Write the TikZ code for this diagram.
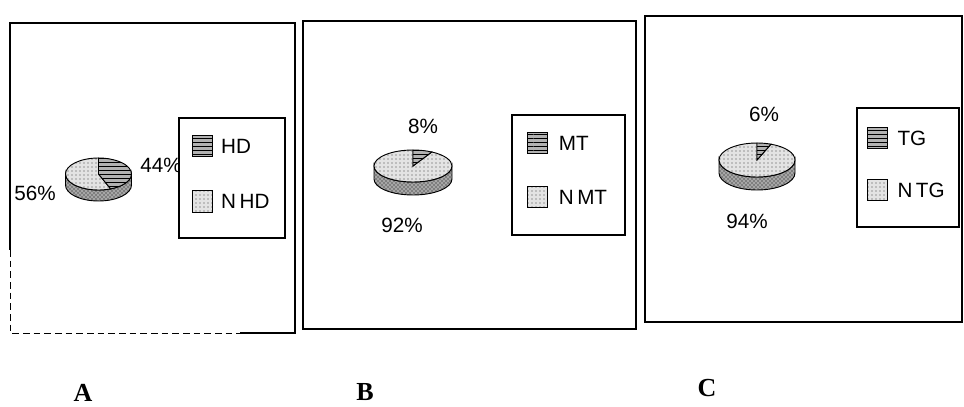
\documentclass[tikz,border=0pt]{standalone}
\usepackage{fontspec}
\setmainfont{Liberation Sans}
\newfontfamily\myserif{Liberation Serif}
\usetikzlibrary{patterns, positioning}
\newlength{\myrulewidth}
\setlength{\myrulewidth}{0.9pt}
\newlength{\mySwatchWidth}
\setlength{\mySwatchWidth}{15pt}

\begin{document}
\begin{tikzpicture}[x=0.75pt, y=0.75pt,
                    my rule/.style={line width=\myrulewidth},
                    my rx/.initial=39, my ry/.initial=16, my depth/.initial=13,
                    my share/.initial=8,
                    my text/.style={font=\fontsize{15.5}{18}\selectfont},
                    my letter/.style={font=\myserif\bfseries\fontsize{19.5}{22}\selectfont},
                    my light/.style={preaction={fill=gray!22},
                      pattern=dots, pattern color=black!75},
                    my dark/.style={preaction={fill=gray!60},
                      pattern=horizontal lines, pattern color=black},
                    my side/.style={preaction={fill=gray!70},
                      pattern=crosshatch dots, pattern color=black},
                    my outline/.style={draw, line width=0.7pt},
                    my swatch/.style={my outline, inner sep=0,
                      minimum width=\mySwatchWidth, minimum height=16pt},
                    my legend/.style={my rule, draw, fill=white, inner sep=0},
                    my pie/.pic={
                      \pgfmathsetmacro{\myRx}{\pgfkeysvalueof{/tikz/my rx}}
                      \pgfmathsetmacro{\myRy}{\pgfkeysvalueof{/tikz/my ry}}
                      \pgfmathsetmacro{\myDepth}{\pgfkeysvalueof{/tikz/my depth}}
                      \pgfmathsetmacro{\myEnd}{90-3.6*\pgfkeysvalueof{/tikz/my share}}
                      \pgfmathsetmacro{\myEndB}{\myEnd+360}
                      \path[my side, my outline]
                        (-\myRx,0) arc[start angle=180, end angle=360,
                                       x radius=\myRx, y radius=\myRy]
                        -- ++(0,-\myDepth)
                        arc[start angle=0, end angle=-180,
                            x radius=\myRx, y radius=\myRy] -- cycle;
                      \path[my light, my outline]
                        (0,0) -- (90:{\myRx} and {\myRy})
                        arc[start angle=90, end angle=\myEndB,
                            x radius=\myRx, y radius=\myRy] -- cycle;
                      \path[my dark, my outline]
                        (0,0) -- (\myEnd:{\myRx} and {\myRy})
                        arc[start angle=\myEnd, end angle=90,
                            x radius=\myRx, y radius=\myRy] -- cycle;
                    }]

\useasboundingbox[fill=white] (0,0) rectangle (964,-407);

% Panel A
\draw[my rule] (240,-333) -- (295,-333) -- (295,-23) -| (10,-250);
\draw[line width=0.5pt, dash pattern=on 5pt off 3pt] (10,-250) |- (240,-333);
\pic[my share=44, my rx=33, my ry=16, my depth=11] (pieA) at (98.5,-174) {my pie};
\node[my text] (pctA1) at (35,-193) {56\%};
\node[my text] (pctA2) at (161,-165) {44\%};
\node[my legend, minimum width=79.5pt, minimum height=90pt] (legA) at (232,-178) {};
\node[my swatch, my dark] (swHD) at (202.5,-146) {};
\node[my swatch, my light] (swNHD) at (202.5,-201.5) {};
\node[my text, inner sep=0, right=6pt of swHD] (txtHD) {HD};
\node[my text, inner sep=0, right=6pt of swNHD] (txtNHD) {N\,HD};

% Panel B
\draw[my rule] (303,-21) rectangle (636,-329);
\pic[my share=8, my rx=39, my ry=16, my depth=13] (pieB) at (413,-166) {my pie};
\node[my text] (pctB1) at (423,-126) {8\%};
\node[my text] (pctB2) at (402,-225) {92\%};
\node[my legend, minimum width=84.75pt, minimum height=90pt] (legB) at (568.5,-175) {};
\node[my swatch, my dark] (swMT) at (537.5,-143) {};
\node[my swatch, my light] (swNMT) at (537.5,-197) {};
\node[my text, inner sep=0, right=8pt of swMT] (txtMT) {MT};
\node[my text, inner sep=0, right=8pt of swNMT] (txtNMT) {N\,MT};

% Panel C
\draw[my rule] (645,-16) rectangle (962,-322);
\pic[my share=6, my rx=38, my ry=17, my depth=13] (pieC) at (757,-160) {my pie};
\node[my text] (pctC1) at (764,-114) {6\%};
\node[my text] (pctC2) at (747,-221) {94\%};
\node[my legend, minimum width=76.5pt, minimum height=89.25pt] (legC) at (908,-167.5) {};
\node[my swatch, my dark] (swTG) at (877.5,-138) {};
\node[my swatch, my light] (swNTG) at (877.5,-190) {};
\node[my text, inner sep=0, right=7pt of swTG] (txtTG) {TG};
\node[my text, inner sep=0, right=7pt of swNTG] (txtNTG) {N\,TG};

% Lettres sous les panneaux
\node[my letter, inner sep=0] (labA) at (83,-393) {A};
\node[my letter, inner sep=0] (labB) at (365,-392) {B};
\node[my letter, inner sep=0] (labC) at (707,-388) {C};
\end{tikzpicture}
\end{document}
